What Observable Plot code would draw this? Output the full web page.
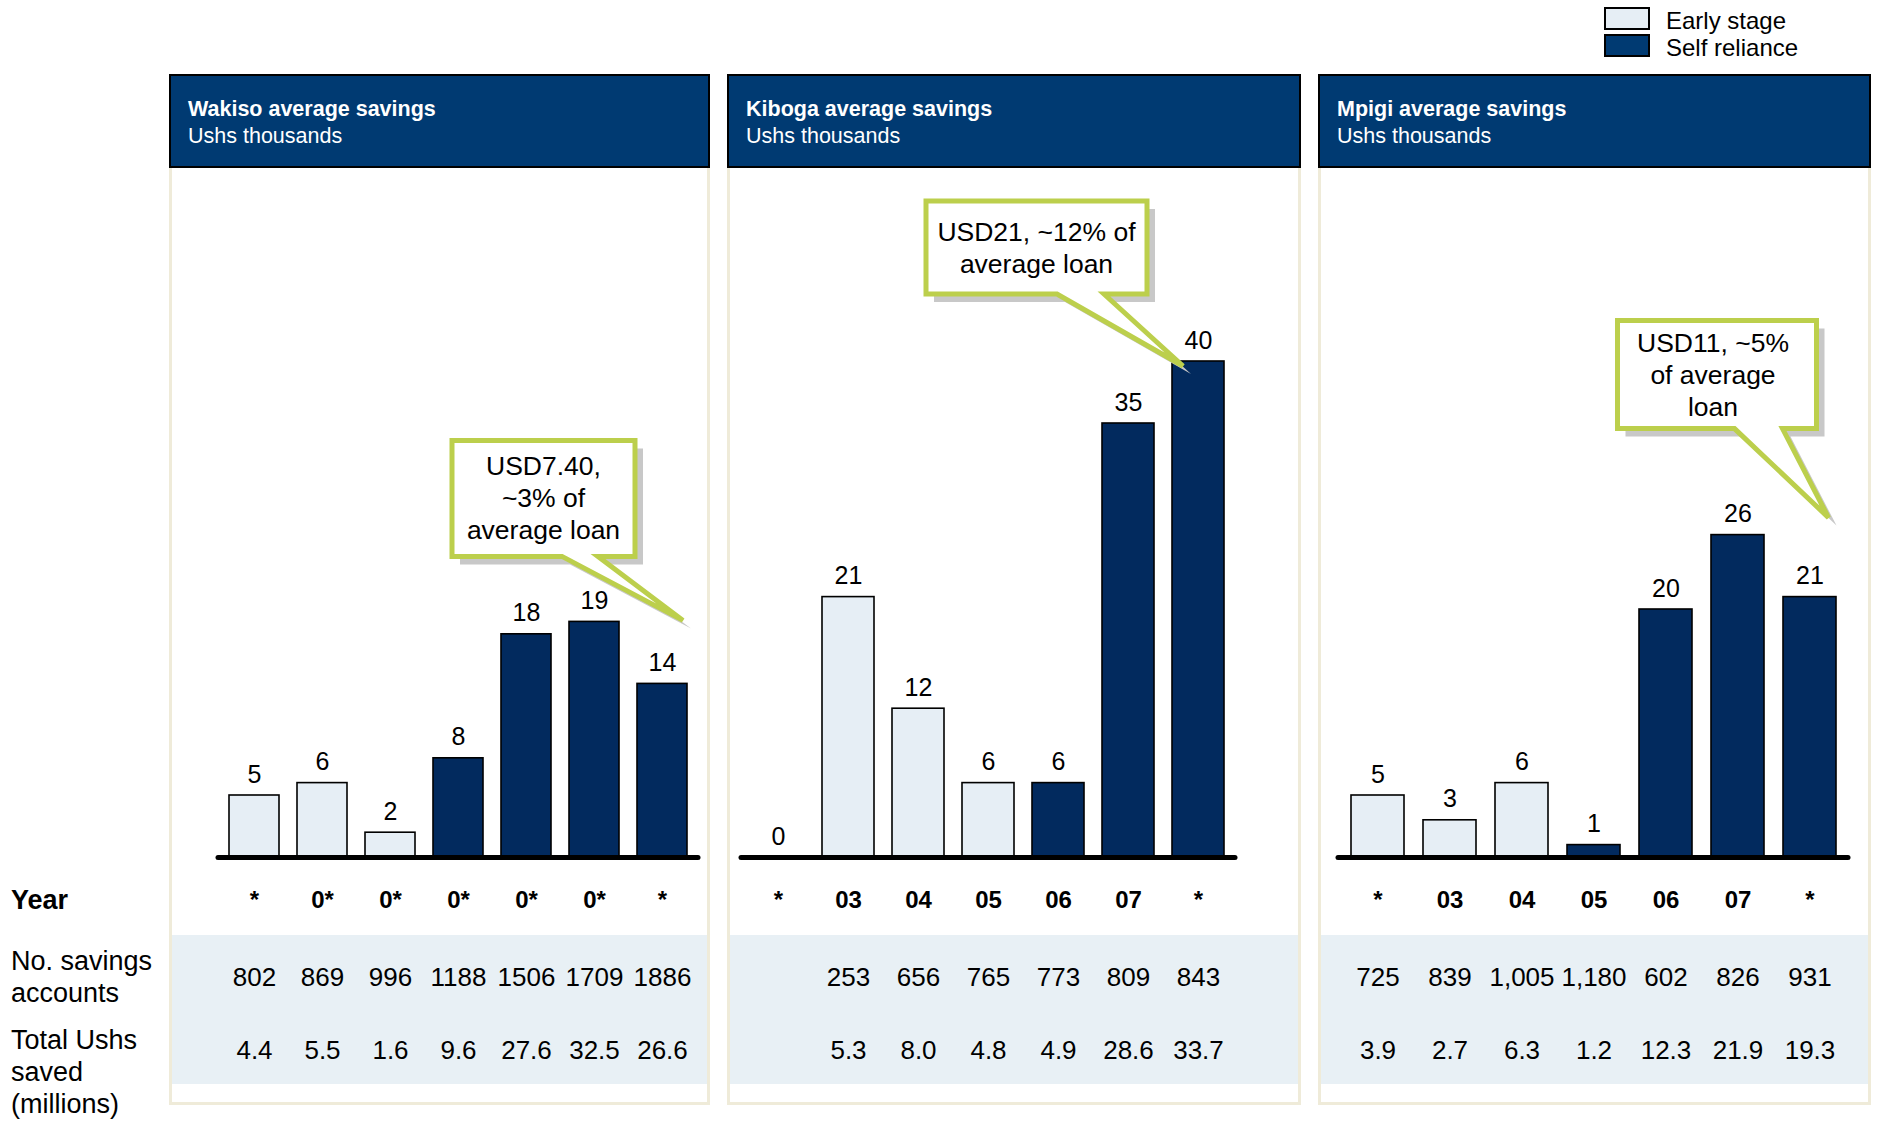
<!DOCTYPE html>
<html>
<head>
<meta charset="utf-8">
<script src="https://cdn.jsdelivr.net/npm/d3@7"></script>
<script src="https://cdn.jsdelivr.net/npm/@observablehq/plot@0.6"></script>
<style>
  html, body { margin: 0; padding: 0; background: #fff; }
  #root { position: relative; width: 1877px; height: 1125px; overflow: hidden; font-family: "Liberation Sans", Arial, sans-serif; color: #000; }
  .header { position: absolute; top: 74px; height: 94px; background: #003A72; border: 2px solid #000; box-sizing: border-box; color: #fff; }
  .header .t { position: absolute; left: 17px; top: 21px; font-size: 21.5px; font-weight: bold; }
  .header .s { position: absolute; left: 17px; top: 48px; font-size: 21.5px; }
  .body { position: absolute; top: 168px; height: 937px; border: 3px solid #EFEBD9; border-top: none; box-sizing: border-box; background: #fff; }
  .band { position: absolute; left: 0; right: 0; top: 767px; height: 149px; background: #E8F0F5; }
  .lbl { position: absolute; left: 11px; font-size: 27px; line-height: 32px; }
  .leg-box { position: absolute; left: 1604px; width: 46px; height: 23px; border: 2px solid #000; box-sizing: border-box; }
  .leg-txt { position: absolute; left: 1666px; font-size: 24px; line-height: 26px; }
</style>
</head>
<body>
<div id="root"></div>
<script>
// ---------------- DATA ----------------
const panelNames = ["Wakiso", "Kiboga", "Mpigi"];
const panelTitles = ["Wakiso average savings", "Kiboga average savings", "Mpigi average savings"];
const panelSubtitle = "Ushs thousands";
const stages = ["Early stage", "Self reliance"];

const wakisoYears = ["*", "0*", "0*", "0*", "0*", "0*", "*"];
const wakisoSavings = [5, 6, 2, 8, 18, 19, 14];
const wakisoStage = ["Early stage", "Early stage", "Early stage", "Self reliance", "Self reliance", "Self reliance", "Self reliance"];
const wakisoAccounts = ["802", "869", "996", "1188", "1506", "1709", "1886"];
const wakisoTotal = ["4.4", "5.5", "1.6", "9.6", "27.6", "32.5", "26.6"];

const kibogaYears = ["*", "03", "04", "05", "06", "07", "*"];
const kibogaSavings = [0, 21, 12, 6, 6, 35, 40];
const kibogaStage = ["Early stage", "Early stage", "Early stage", "Early stage", "Self reliance", "Self reliance", "Self reliance"];
const kibogaAccounts = ["", "253", "656", "765", "773", "809", "843"];
const kibogaTotal = ["", "5.3", "8.0", "4.8", "4.9", "28.6", "33.7"];

const mpigiYears = ["*", "03", "04", "05", "06", "07", "*"];
const mpigiSavings = [5, 3, 6, 1, 20, 26, 21];
const mpigiStage = ["Early stage", "Early stage", "Early stage", "Self reliance", "Self reliance", "Self reliance", "Self reliance"];
const mpigiAccounts = ["725", "839", "1,005", "1,180", "602", "826", "931"];
const mpigiTotal = ["3.9", "2.7", "6.3", "1.2", "12.3", "21.9", "19.3"];

const rowLabels = ["Year", "No. savings\naccounts", "Total Ushs\nsaved\n(millions)"];
const calloutTexts = [
  ["USD7.40,", "~3% of", "average loan"],
  ["USD21, ~12% of", "average loan"],
  ["USD11, ~5%", "of average", "loan"]
];
const calloutBar = [6, 6, 6];

// ---------------- LAYOUT / STYLE ----------------
const EARLY = "#E6EEF5", SELF = "#022A5E";
const FONT = "Liberation Sans, Arial, sans-serif";
const layout = [
  { left: 169, width: 541, xr: [51, 527], ml: 49, mr: 12,
    tipOff: [21, -63], box: [-231, -180, -48, -64], base: [-121, -85] },
  { left: 727, width: 574, xr: [16, 506], ml: 14, mr: 66,
    tipOff: [-15, 5], box: [-257, -165, -36, -72], base: [-126, -79] },
  { left: 1318, width: 553, xr: [24, 528], ml: 20, mr: 23,
    tipOff: [19, -79], box: [-211, -197, -12, -89], base: [-94, -46] }
];
const panelData = [
  [wakisoYears, wakisoSavings, wakisoStage, wakisoAccounts, wakisoTotal],
  [kibogaYears, kibogaSavings, kibogaStage, kibogaAccounts, kibogaTotal],
  [mpigiYears, mpigiSavings, mpigiStage, mpigiAccounts, mpigiTotal]
];

const root = document.getElementById("root");
function el(cls, css, html) {
  const d = document.createElement("div");
  if (cls) d.className = cls;
  Object.assign(d.style, css || {});
  if (html != null) d.innerHTML = html;
  root.appendChild(d);
  return d;
}

// Legend
el("leg-box", { top: "7px", background: EARLY });
el("leg-box", { top: "34px", background: "#003A72" });
el("leg-txt", { top: "8px" }, stages[0]);
el("leg-txt", { top: "35px" }, stages[1]);

// Row labels on the left
el("lbl", { top: "884px", fontWeight: "bold" }, rowLabels[0]);
el("lbl", { top: "945px" }, rowLabels[1].replace(/\n/g, "<br>"));
el("lbl", { top: "1024px" }, rowLabels[2].replace(/\n/g, "<br>"));

panelNames.forEach((name, p) => {
  const L = layout[p];
  const [years, vals, stg, acc, tot] = panelData[p];
  const hdr = el("header", { left: L.left + "px", width: L.width + "px" });
  hdr.innerHTML = `<div class="t">${panelTitles[p]}</div><div class="s">${panelSubtitle}</div>`;
  const body = el("body", { left: L.left + "px", width: L.width + "px" });
  const band = document.createElement("div"); band.className = "band"; body.appendChild(band);

  const rows = vals.map((v, i) => ({ key: String(i), value: v, stage: stg[i], year: years[i], accounts: acc[i], total: tot[i] }));
  const H = 936;
  const chart = Plot.plot({
    width: L.width, height: H,
    marginLeft: L.ml, marginRight: L.mr, marginTop: 0, marginBottom: 0,
    style: { background: "none", overflow: "visible", fontFamily: FONT },
    x: { type: "band", domain: rows.map(d => d.key), range: L.xr, paddingInner: 0.26, paddingOuter: 0.13, axis: null },
    y: { domain: [0, 40], range: [689, 193], axis: null },
    color: { domain: stages, range: [EARLY, SELF] },
    marks: [
      Plot.barY(rows, { x: "key", y: "value", fill: "stage", stroke: "#000", strokeWidth: 1.6 }),
      Plot.ruleY([0], { stroke: "#000", strokeWidth: 5, strokeLinecap: "round" }),
      Plot.text(rows, { x: "key", y: "value", text: d => String(d.value), lineAnchor: "bottom", dy: -13, fontSize: 25, fill: "#000" }),
      Plot.text(rows, { x: "key", frameAnchor: "top", dy: 722, text: "year", fontSize: 24, fontWeight: "bold", fill: "#000" }),
      Plot.text(rows, { x: "key", frameAnchor: "top", dy: 799, text: "accounts", fontSize: 26, fill: "#000" }),
      Plot.text(rows, { x: "key", frameAnchor: "top", dy: 872, text: "total", fontSize: 26, fill: "#000" })
    ]
  });
  chart.style.position = "absolute";
  chart.style.left = L.left + "px";
  chart.style.top = "168px";
  root.appendChild(chart);

  // Callout anchored to a bar through the chart's scales
  const sx = chart.scale("x"), sy = chart.scale("y");
  const bi = calloutBar[p];
  const ax = sx.apply(rows[bi].key) + sx.bandwidth / 2;
  const ay = sy.apply(rows[bi].value);
  const tx = ax + L.tipOff[0], ty = ay + L.tipOff[1];
  const [bx0, by0, bx1, by1] = L.box;
  const pts = [
    [tx + bx0, ty + by0], [tx + bx1, ty + by0], [tx + bx1, ty + by1],
    [tx + L.base[1], ty + by1], [tx, ty], [tx + L.base[0], ty + by1], [tx + bx0, ty + by1]
  ];
  const svg = d3.select(chart);
  const g = svg.append("g");
  const poly = pts.map(d => d.join(",")).join(" ");
  g.append("polygon").attr("points", poly).attr("transform", "translate(8,8)").attr("fill", "#C8C8C8");
  g.append("polygon").attr("points", poly).attr("fill", "#fff").attr("stroke", "#BCCF4C").attr("stroke-width", 5).attr("stroke-linejoin", "miter");
  const lines = calloutTexts[p];
  const cx = tx + (bx0 + bx1) / 2 - (p === 2 ? 4 : 0), cy = ty + (by0 + by1) / 2;
  const lh = 32;
  lines.forEach((t, k) => {
    g.append("text").attr("x", cx).attr("y", cy + (k - (lines.length - 1) / 2) * lh)
      .attr("text-anchor", "middle").attr("dominant-baseline", "central")
      .attr("font-family", FONT).attr("font-size", 26.5).attr("fill", "#000").text(t);
  });
});
</script>
</body>
</html>
